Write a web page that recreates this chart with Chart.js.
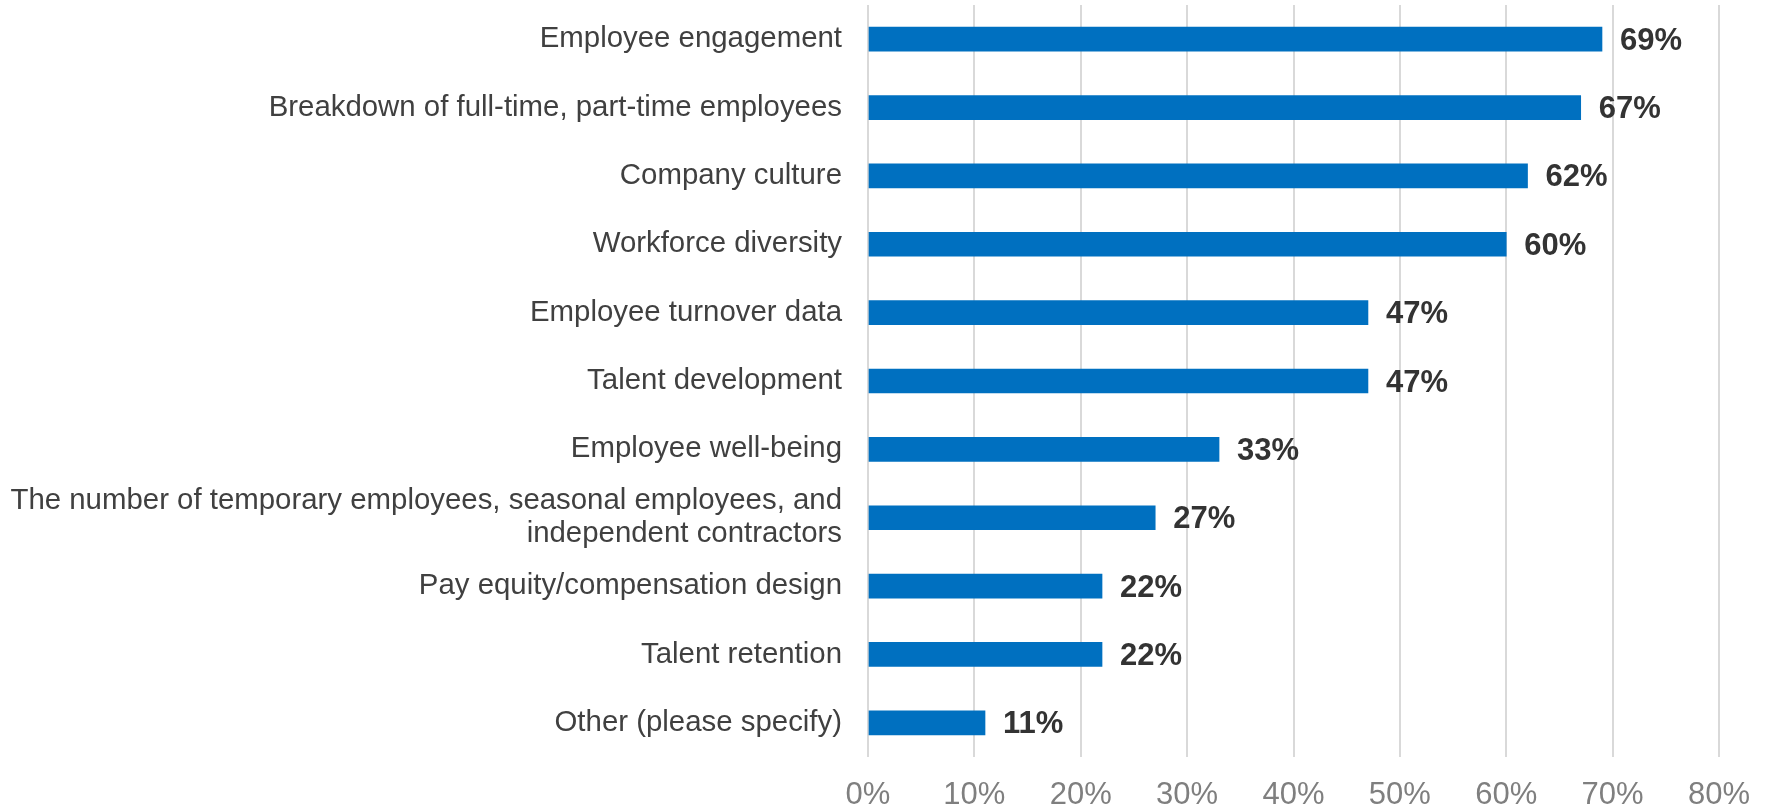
<!DOCTYPE html>
<html>
<head>
<meta charset="utf-8">
<script src="https://cdn.jsdelivr.net/npm/chart.js@4"></script>
<style>
  html, body { margin: 0; padding: 0; background: #fff; }
  #wrap { width: 1766px; height: 808px; }
</style>
</head>
<body>
<div id="wrap"><canvas id="chart" width="1766" height="808"></canvas></div>
<script>
const categories = [
  "Employee engagement",
  "Breakdown of full-time, part-time employees",
  "Company culture",
  "Workforce diversity",
  "Employee turnover data",
  "Talent development",
  "Employee well-being",
  ["The number of temporary employees, seasonal employees, and", "independent contractors"],
  "Pay equity/compensation design",
  "Talent retention",
  "Other (please specify)"
];
const percents = [69, 67, 62, 60, 47, 47, 33, 27, 22, 22, 11];
const tickValues = [0, 10, 20, 30, 40, 50, 60, 70, 80];

const FONT = "'Liberation Sans', Arial, sans-serif";

// writes the percentage just past the end of each bar
const valueLabels = {
  id: "valueLabels",
  afterDatasetsDraw(chart) {
    const ctx = chart.ctx;
    const meta = chart.getDatasetMeta(0);
    ctx.save();
    ctx.font = "bold 31px " + FONT;
    ctx.fillStyle = "#333333";
    ctx.textAlign = "left";
    ctx.textBaseline = "middle";
    meta.data.forEach((bar, i) => {
      ctx.fillText(percents[i] + "%", bar.x + 18, bar.y + 2);
    });
    ctx.restore();
  }
};

new Chart(document.getElementById("chart"), {
  type: "bar",
  data: {
    labels: categories,
    datasets: [{
      data: percents,
      backgroundColor: "#0070C0",
      borderWidth: 0,
      barThickness: 24,
    }]
  },
  plugins: [valueLabels],
  options: {
    indexAxis: "y",
    responsive: false,
    animation: false,
    layout: { padding: { top: 5, right: 47, left: 0, bottom: 0 } },
    plugins: {
      legend: { display: false },
      tooltip: { enabled: false },
    },
    scales: {
      x: {
        min: 0,
        max: 80,
        afterBuildTicks: (scale) => {
          scale.ticks = tickValues.map(v => ({ value: v }));
        },
        afterFit: (scale) => {
          scale.height = 51;
          scale.paddingLeft = 0;
          scale.paddingRight = 0;
        },
        grid: { color: "#d9d9d9", lineWidth: 2, drawTicks: false },
        border: { display: false },
        ticks: {
          padding: 20,
          color: "#7f7f7f",
          font: { family: FONT, size: 31 },
          callback: (v) => v + "%",
        },
      },
      y: {
        afterFit: (scale) => {
          scale.width = 868;
          scale.paddingTop = 0;
          scale.paddingBottom = 0;
        },
        grid: { display: false, drawTicks: false },
        border: { display: false },
        ticks: {
          autoSkip: false,
          padding: 26,
          color: "#404040",
          font: { family: FONT, size: 29.4, lineHeight: 1.12 },
        },
      },
    },
  },
});
</script>
</body>
</html>
